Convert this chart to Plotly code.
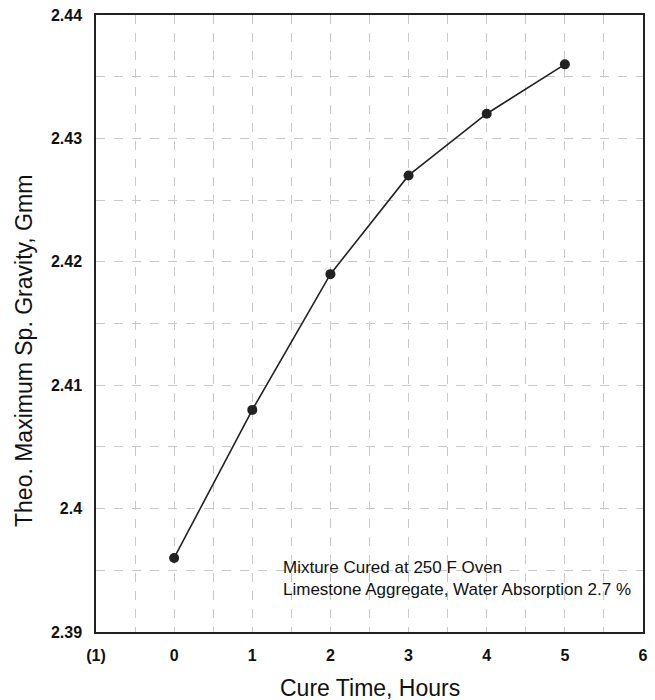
import plotly.graph_objects as go

cure_hours = [0, 1, 2, 3, 4, 5]
gmm = [2.396, 2.408, 2.419, 2.427, 2.432, 2.436]

x_tickvals = [-1, 0, 1, 2, 3, 4, 5, 6]
x_ticktext = ["(1)", "0", "1", "2", "3", "4", "5", "6"]
y_tickvals = [2.39, 2.40, 2.41, 2.42, 2.43, 2.44]
y_ticktext = ["2.39", "2.4", "2.41", "2.42", "2.43", "2.44"]

note_lines = ["Mixture Cured at 250 F Oven",
              "Limestone Aggregate, Water Absorption 2.7 %"]

FONT = "Liberation Sans, Arial, sans-serif"
GRID = "#c9c9c9"
L, R, T, B = 96, 12, 15, 68

fig = go.Figure()
fig.add_trace(go.Scatter(
    x=cure_hours, y=gmm, mode="lines+markers",
    line=dict(color="#222", width=1.6),
    marker=dict(size=10, color="#222"),
    showlegend=False, hoverinfo="skip"))

fig.update_layout(
    width=655, height=700,
    margin=dict(l=L, r=R, t=T, b=B, autoexpand=False),
    paper_bgcolor="white", plot_bgcolor="white",
    font=dict(family=FONT, color="#111"),
    xaxis=dict(
        range=[-1, 6], tickvals=x_tickvals, ticktext=x_ticktext, automargin=False,
        tickfont=dict(size=16, family=FONT, color="#111", weight="bold"),
        showgrid=True, gridcolor=GRID, griddash="dash", gridwidth=1,
        minor=dict(dtick=0.5, tick0=-1, showgrid=True, gridcolor=GRID, griddash="dash", gridwidth=1),
        showline=True, linecolor="#222", linewidth=1.5, mirror=True,
        zeroline=False, ticks="", ticklabelstandoff=8,
    ),
    yaxis=dict(
        range=[2.39, 2.44], tickvals=y_tickvals, ticktext=y_ticktext, automargin=False,
        tickfont=dict(size=16, family=FONT, color="#111", weight="bold"),
        showgrid=True, gridcolor=GRID, griddash="dash", gridwidth=1,
        minor=dict(dtick=0.005, tick0=2.39, showgrid=True, gridcolor=GRID, griddash="dash", gridwidth=1),
        showline=True, linecolor="#222", linewidth=1.5, mirror=True,
        zeroline=False, ticks="", ticklabelstandoff=9,
    ),
)

# Axis titles placed as paper annotations (pixel-accurate placement)
fig.add_annotation(
    text="Cure Time, Hours",
    xref="paper", yref="paper", x=0.5, y=-(688 - (700 - B)) / (700 - T - B),
    xanchor="center", yanchor="middle",
    showarrow=False, font=dict(size=23, family=FONT, color="#111"))

fig.add_annotation(
    text="Theo. Maximum Sp. Gravity, Gmm", textangle=-90,
    xref="paper", yref="paper", x=-(L - 24) / (655 - L - R), y=((700 - B) - 351) / (700 - T - B),
    xanchor="center", yanchor="middle",
    showarrow=False, font=dict(size=23, family=FONT, color="#111"))

fig.add_annotation(
    text="<br>".join(note_lines), align="left",
    xref="x", yref="y", x=1.37, y=2.3925, xanchor="left", yanchor="bottom",
    showarrow=False, font=dict(size=17, family=FONT, color="#111"))

fig.write_html("out.html", config={"displayModeBar": False},
               post_script="document.body.style.margin='0';document.body.style.overflow='hidden';")
